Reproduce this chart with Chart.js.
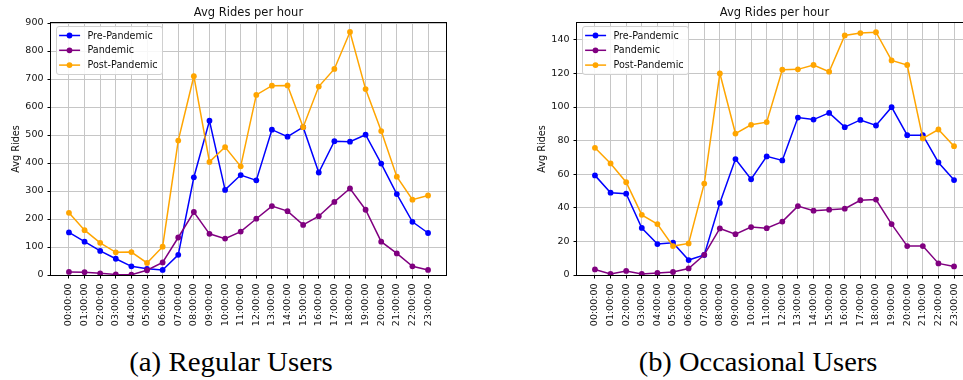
<!DOCTYPE html>
<html><head><meta charset="utf-8">
<script src="https://cdn.jsdelivr.net/npm/chart.js@4/dist/chart.umd.min.js"></script>
<style>
html,body{margin:0;padding:0;width:963px;height:380px;overflow:hidden;background:#fff;position:relative;}
canvas{position:absolute;top:0;}
#c1{left:0}
#c2{left:526px}
.cap{position:absolute;top:346px;font-family:'Liberation Serif',serif;font-size:27.5px;color:#000;white-space:nowrap;line-height:32px}
</style></head>
<body>
<canvas id="c1" width="480" height="335"></canvas>
<canvas id="c2" width="480" height="335"></canvas>
<div class="cap" style="left:231px;transform:translateX(-50%) scaleX(1.05)">(a) Regular Users</div>
<div class="cap" style="left:758px;transform:translateX(-50%) scaleX(1.035)">(b) Occasional Users</div>
<script>
const hours = ['00:00:00','01:00:00','02:00:00','03:00:00','04:00:00','05:00:00','06:00:00','07:00:00','08:00:00','09:00:00','10:00:00','11:00:00','12:00:00','13:00:00','14:00:00','15:00:00','16:00:00','17:00:00','18:00:00','19:00:00','20:00:00','21:00:00','22:00:00','23:00:00'];
const seriesNames = ['Pre-Pandemic','Pandemic','Post-Pandemic'];
const seriesColors = ['#0000ff','#800080','#ffa500'];

const regularPre = [152,119,86,58,31,22,18,72,349,551,304,357,338,519,494,528,366,478,476,501,398,289,190,150];
const regularPandemic = [11,10,6,2,1,17,45,134,225,147,130,155,201,246,228,179,210,261,309,233,119,77,31,18];
const regularPost = [222,160,115,81,82,43,101,480,710,404,457,388,643,676,677,528,673,736,868,664,514,351,269,284];
const regularYTicks = [0,100,200,300,400,500,600,700,800,900];

const occasionalPre = [59.3,49,48.4,28,18.4,19.2,8.9,11.9,42.9,69,57,70.6,68.2,93.7,92.5,96.5,88,92.3,89,99.9,83.2,83.2,67,56.5];
const occasionalPandemic = [3.3,0.6,2.4,0.6,1.2,1.8,3.9,12,27.7,24.3,28.5,27.9,31.8,41,38.3,38.9,39.5,44.5,44.9,30.3,17.2,17.2,6.9,5.1];
const occasionalPost = [75.7,66.4,55.2,35.8,30.3,17.2,18.8,54.4,120,84.2,89.4,91,122.2,122.4,125,121,142.6,144,144.5,127.7,125,81.3,86.6,76.7];
const occasionalYTicks = [0,20,40,60,80,100,120,140];

const chartTitle = 'Avg Rides per hour';
const yTitle = 'Avg Rides';
const F = "'DejaVu Sans', sans-serif";

const framePlugin = {
  id: 'frame',
  afterDatasetsDraw(chart) {
    const {ctx, chartArea: a} = chart;
    ctx.save();
    ctx.strokeStyle = '#000';
    ctx.lineWidth = 1;
    const l = Math.round(a.left) - 0.5, t = Math.round(a.top) - 0.5;
    const r = Math.round(a.right) + 0.5, b = Math.round(a.bottom) + 0.5;
    ctx.strokeRect(l, t, r - l, b - t);
    ctx.restore();
  }
};

const legendPlugin = {
  id: 'boxLegend',
  afterDraw(chart) {
    const {ctx, chartArea: a} = chart;
    const bx = a.left + 5.5, by = a.top + 3.5, bw = 106, bh = 48, rr = 2.5;
    ctx.save();
    ctx.beginPath();
    ctx.moveTo(bx + rr, by);
    ctx.lineTo(bx + bw - rr, by);
    ctx.arcTo(bx + bw, by, bx + bw, by + rr, rr);
    ctx.lineTo(bx + bw, by + bh - rr);
    ctx.arcTo(bx + bw, by + bh, bx + bw - rr, by + bh, rr);
    ctx.lineTo(bx + rr, by + bh);
    ctx.arcTo(bx, by + bh, bx, by + bh - rr, rr);
    ctx.lineTo(bx, by + rr);
    ctx.arcTo(bx, by, bx + rr, by, rr);
    ctx.closePath();
    ctx.fillStyle = 'rgba(255,255,255,0.85)';
    ctx.fill();
    ctx.strokeStyle = '#d0d0d0';
    ctx.lineWidth = 1;
    ctx.stroke();
    chart.data.datasets.forEach((ds, i) => {
      const cy = by + 9 + i * 14.8;
      ctx.strokeStyle = ds.borderColor;
      ctx.lineWidth = 1.5;
      ctx.beginPath();
      ctx.moveTo(bx + 2.6, cy);
      ctx.lineTo(bx + 23.6, cy);
      ctx.stroke();
      ctx.fillStyle = ds.borderColor;
      ctx.beginPath();
      ctx.arc(bx + 13, cy, 2.9, 0, Math.PI * 2);
      ctx.fill();
      ctx.fillStyle = '#111';
      ctx.font = "9.6px " + F;
      ctx.textBaseline = 'middle';
      ctx.textAlign = 'left';
      ctx.fillText(ds.label, bx + 31, cy + 0.5);
    });
    ctx.restore();
  }
};

function makeChart(id, seriesList, yMax, yTicks) {
  const datasets = seriesList.map((vals, i) => ({
    label: seriesNames[i],
    data: vals.map((v, k) => ({x: k, y: v})),
    borderColor: seriesColors[i],
    backgroundColor: seriesColors[i],
    borderWidth: 1.5,
    pointRadius: 2.9,
    pointBorderWidth: 0,
    pointBackgroundColor: seriesColors[i],
    tension: 0,
    order: 3 - i
  }));
  const gridOpts = {color: '#c6c6c6', lineWidth: 1, tickColor: '#000', tickLength: 3.5, drawTicks: true};
  return new Chart(document.getElementById(id), {
    type: 'line',
    data: {datasets},
    options: {
      responsive: false,
      animation: false,
      events: [],
      layout: {padding: {left: 0, right: 34, top: 0, bottom: 0}},
      plugins: {
        legend: {display: false},
        tooltip: {enabled: false},
        title: {display: true, text: chartTitle, fullSize: false, color: '#111',
          font: {family: F, size: 11.5, weight: 'normal'}, padding: {top: 5.7, bottom: 3.5}}
      },
      scales: {
        x: {
          type: 'linear', min: -1.15, max: 24.15,
          afterBuildTicks: s => { s.ticks = hours.map((h, k) => ({value: k})); },
          afterFit: s => { s.height = 60; },
          ticks: {autoSkip: false, minRotation: 90, maxRotation: 90, padding: 5, color: '#111',
            font: {family: F, size: 9.5}, callback: v => hours[v]},
          grid: gridOpts,
          border: {display: false}
        },
        y: {
          min: 0, max: yMax,
          afterBuildTicks: s => { s.ticks = yTicks.map(v => ({value: v})); },
          afterFit: s => { s.width = 51; },
          ticks: {padding: 4, color: '#111', font: {family: F, size: 9.5}, callback: v => String(v)},
          grid: gridOpts,
          border: {display: false},
          title: {display: true, text: yTitle, color: '#111', font: {family: F, size: 9.7},
            padding: {top: 10.5, bottom: 0}}
        }
      }
    },
    plugins: [framePlugin, legendPlugin]
  });
}

makeChart('c1', [regularPre, regularPandemic, regularPost], 900, regularYTicks);
makeChart('c2', [occasionalPre, occasionalPandemic, occasionalPost], 150, occasionalYTicks);
</script>
</body></html>
